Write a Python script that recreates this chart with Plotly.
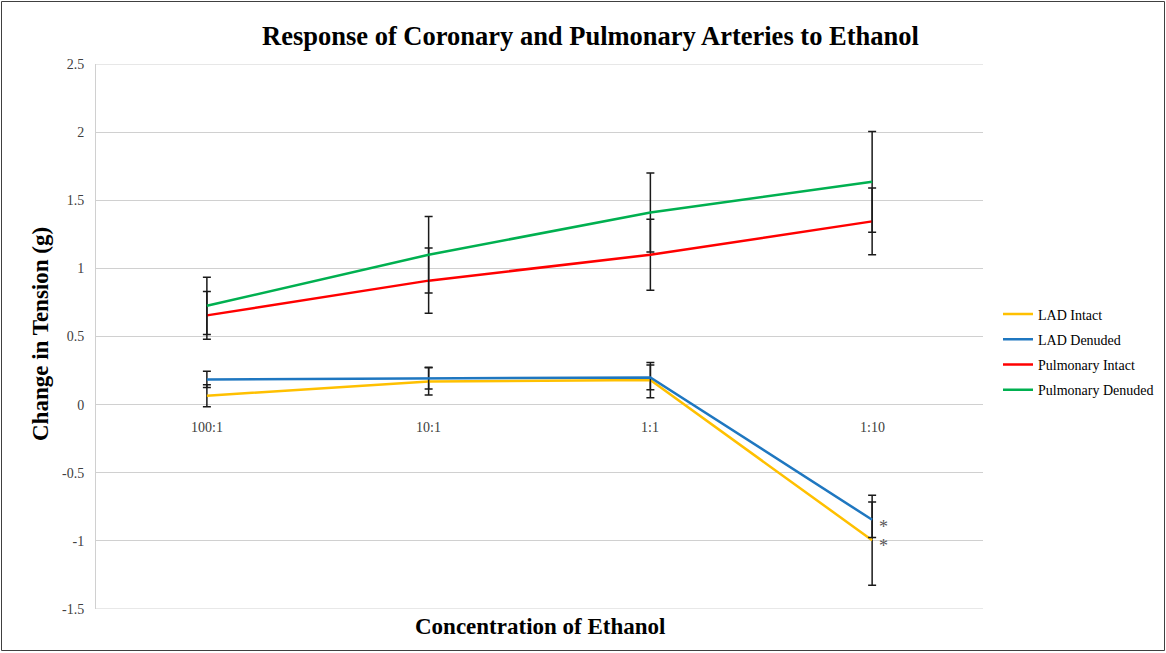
import plotly.graph_objects as go

categories = ["100:1", "10:1", "1:1", "1:10"]

lad_intact = [0.065, 0.17, 0.18, -0.995]
lad_intact_err = [0.08, 0.10, 0.13, 0.33]
lad_denuded = [0.185, 0.195, 0.20, -0.845]
lad_denuded_err = [0.06, 0.08, 0.09, 0.13]
pulm_intact = [0.655, 0.91, 1.10, 1.345]
pulm_intact_err = [0.175, 0.24, 0.26, 0.245]
pulm_denuded = [0.725, 1.10, 1.41, 1.635]
pulm_denuded_err = [0.21, 0.28, 0.29, 0.37]

series_names = ["LAD Intact", "LAD Denuded", "Pulmonary Intact", "Pulmonary Denuded"]
series_colors = ["#FFC000", "#1F77C0", "#FF0000", "#00B050"]
series_vals = [lad_intact, lad_denuded, pulm_intact, pulm_denuded]
series_errs = [lad_intact_err, lad_denuded_err, pulm_intact_err, pulm_denuded_err]

y_ticks = [2.5, 2, 1.5, 1, 0.5, 0, -0.5, -1, -1.5]
y_ticktext = ["2.5", "2", "1.5", "1", "0.5", "0", "-0.5", "-1", "-1.5"]

W, H = 1166, 653
L, R, T, B = 96, 183, 64, 44
PW, PH = W - L - R, H - T - B

def px(x):
    return (x - L) / PW

def py(y):
    return (H - B - y) / PH

SERIF = "Liberation Serif, Times New Roman, serif"
GRID = "#D0D0D0"

fig = go.Figure()
for i, (name, color, vals, errs) in enumerate(zip(series_names, series_colors, series_vals, series_errs)):
    fig.add_trace(go.Scatter(
        x=categories, y=vals, name=name, mode="lines",
        line=dict(color=color, width=2.5),
        legendgroup=f"g{i}",
        error_y=dict(type="data", array=errs, visible=True, color="#1a1a1a",
                     thickness=1.5, width=4),
    ))

annotations = []
for c in categories:
    annotations.append(dict(x=c, y=0, xref="x", yref="y", text=c, showarrow=False,
                            yshift=-23, font=dict(family=SERIF, size=14, color="#404040")))
# significance markers
for vals, ys in ((lad_denuded, -7), (lad_intact, -6)):
    annotations.append(dict(x=categories[3], y=vals[3], xref="x", yref="y", text="*",
                            showarrow=False, xshift=11, yshift=ys,
                            font=dict(family=SERIF, size=18, color="#595959")))

annotations.append(dict(x=px(590), y=py(36), xref="paper", yref="paper",
                        xanchor="center", yanchor="middle",
                        text="<b>Response of Coronary and Pulmonary Arteries to Ethanol</b>",
                        showarrow=False, font=dict(family=SERIF, size=26.5, color="#000000")))
annotations.append(dict(x=px(540), y=py(627), xref="paper", yref="paper",
                        xanchor="center", yanchor="middle",
                        text="<b>Concentration of Ethanol</b>",
                        showarrow=False, font=dict(family=SERIF, size=23, color="#000000")))
annotations.append(dict(x=px(40), y=py(334), xref="paper", yref="paper",
                        xanchor="center", yanchor="middle",
                        text="<b>Change in Tension (g)</b>", textangle=-90,
                        showarrow=False, font=dict(family=SERIF, size=23, color="#000000")))

shapes = [dict(type="rect", xref="paper", yref="paper",
               x0=px(1.5), x1=px(1164.5), y0=py(650.5), y1=py(1.5),
               line=dict(color="#404040", width=1), fillcolor="rgba(0,0,0,0)",
               layer="below")]
for yv in (y_ticks[0], y_ticks[-1]):
    shapes.append(dict(type="line", xref="paper", yref="y", x0=0, x1=1, y0=yv, y1=yv,
                       line=dict(color=GRID, width=1), layer="below"))

fig.update_layout(
    width=W, height=H,
    margin=dict(l=L, r=R, t=T, b=B, autoexpand=False),
    paper_bgcolor="white", plot_bgcolor="white",
    showlegend=True,
    legend=dict(x=px(998), y=py(352), xanchor="left", yanchor="middle",
                font=dict(family=SERIF, size=14, color="#000000"),
                tracegroupgap=4, bgcolor="rgba(0,0,0,0)"),
    annotations=annotations,
    shapes=shapes,
)
fig.update_xaxes(type="category", range=[-0.5, 3.5], showticklabels=False,
                 showgrid=False, zeroline=False, showline=False, ticks="")
fig.update_yaxes(range=[-1.5, 2.5], tickvals=y_ticks, ticktext=y_ticktext,
                 showgrid=True, gridcolor=GRID, gridwidth=1,
                 zeroline=False, showline=True, linecolor=GRID, linewidth=1,
                 ticks="", ticklabelstandoff=8,
                 tickfont=dict(family=SERIF, size=14, color="#404040"))

fig.write_html("out.html", config={"displayModeBar": False},
               post_script="document.body.style.margin='0';document.body.style.overflow='hidden';")
